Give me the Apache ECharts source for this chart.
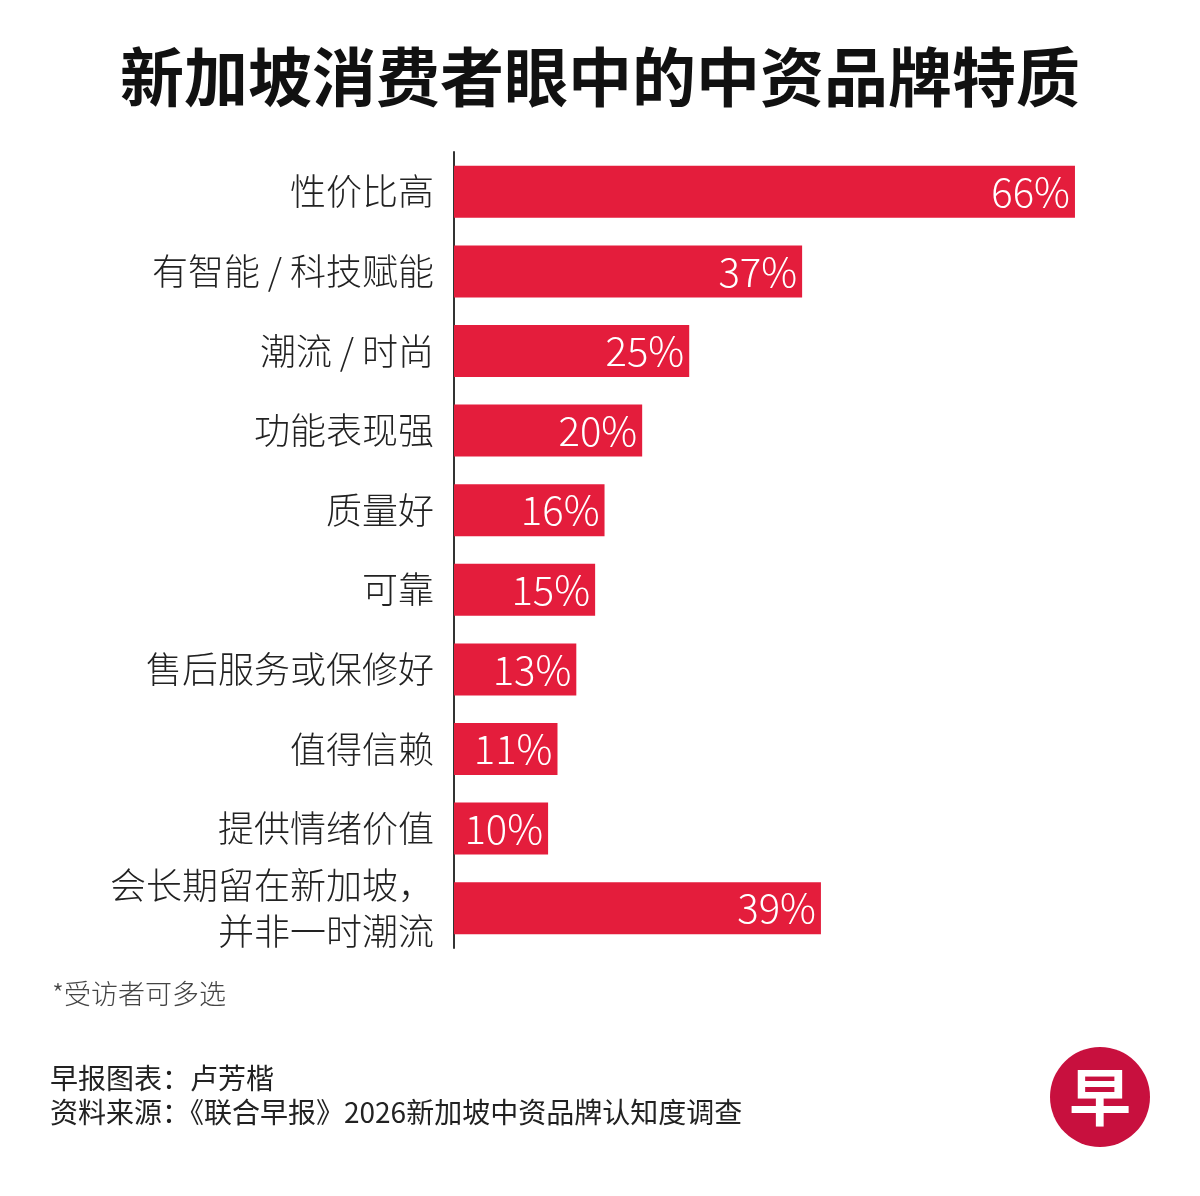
<!DOCTYPE html>
<html><head><meta charset="utf-8">
<script src="https://cdn.jsdelivr.net/npm/echarts@6/dist/echarts.min.js"></script>
<style>html,body{margin:0;padding:0;background:#fff}#c{width:1200px;height:1196px}</style>
</head><body><div id="c"></div>
<script>
const categories = ['性价比高','有智能 / 科技赋能','潮流 / 时尚','功能表现强','质量好','可靠','售后服务或保修好','值得信赖','提供情绪价值','会长期留在新加坡，\n并非一时潮流'];
const values = [66,37,25,20,16,15,13,11,10,39];
const font = '"Noto Sans CJK SC","Noto Sans",sans-serif';
const chart = echarts.init(document.getElementById('c'));
chart.setOption({
  backgroundColor:'#fff',
  animation:false,
  title:{text:'新加坡消费者眼中的中资品牌特质',left:'center',top:40,
    textStyle:{fontFamily:font,fontSize:64,fontWeight:'bold',color:'#111'}},
  grid:{left:454,top:152,width:700,height:796},
  xAxis:{type:'value',min:0,max:74.4,show:false},
  yAxis:{type:'category',inverse:true,data:categories,
    axisLine:{show:true,lineStyle:{color:'#333',width:2}},
    axisTick:{show:false},
    axisLabel:{fontFamily:font,fontSize:36,fontWeight:300,color:'#222',margin:20,align:'right',lineHeight:46}},
  series:[{type:'bar',data:values,barWidth:52,itemStyle:{color:'#e41d3c'},
    label:{show:true,position:'insideRight',formatter:'{c}%',color:'#fff',fontFamily:font,fontSize:40,fontWeight:300,offset:[0,0]}}],
  graphic:[
    {type:'text',left:52,top:980,style:{text:'*受访者可多选',font:'300 27px '+font,fill:'#444'}},
    {type:'text',left:50,top:1064,style:{text:'早报图表：卢芳楷',font:'28px '+font,fill:'#222'}},
    {type:'text',left:50,top:1098,style:{text:'资料来源：《联合早报》2026新加坡中资品牌认知度调查',font:'28px '+font,fill:'#222'}},
    {type:'circle',shape:{cx:1100,cy:1097,r:50},style:{fill:'#c8103e'}},
    {type:'text',x:1100,y:1097,style:{text:'早',font:'bold 62px '+font,fill:'#fff',align:'center',verticalAlign:'middle'}}
  ]
});
</script></body></html>
